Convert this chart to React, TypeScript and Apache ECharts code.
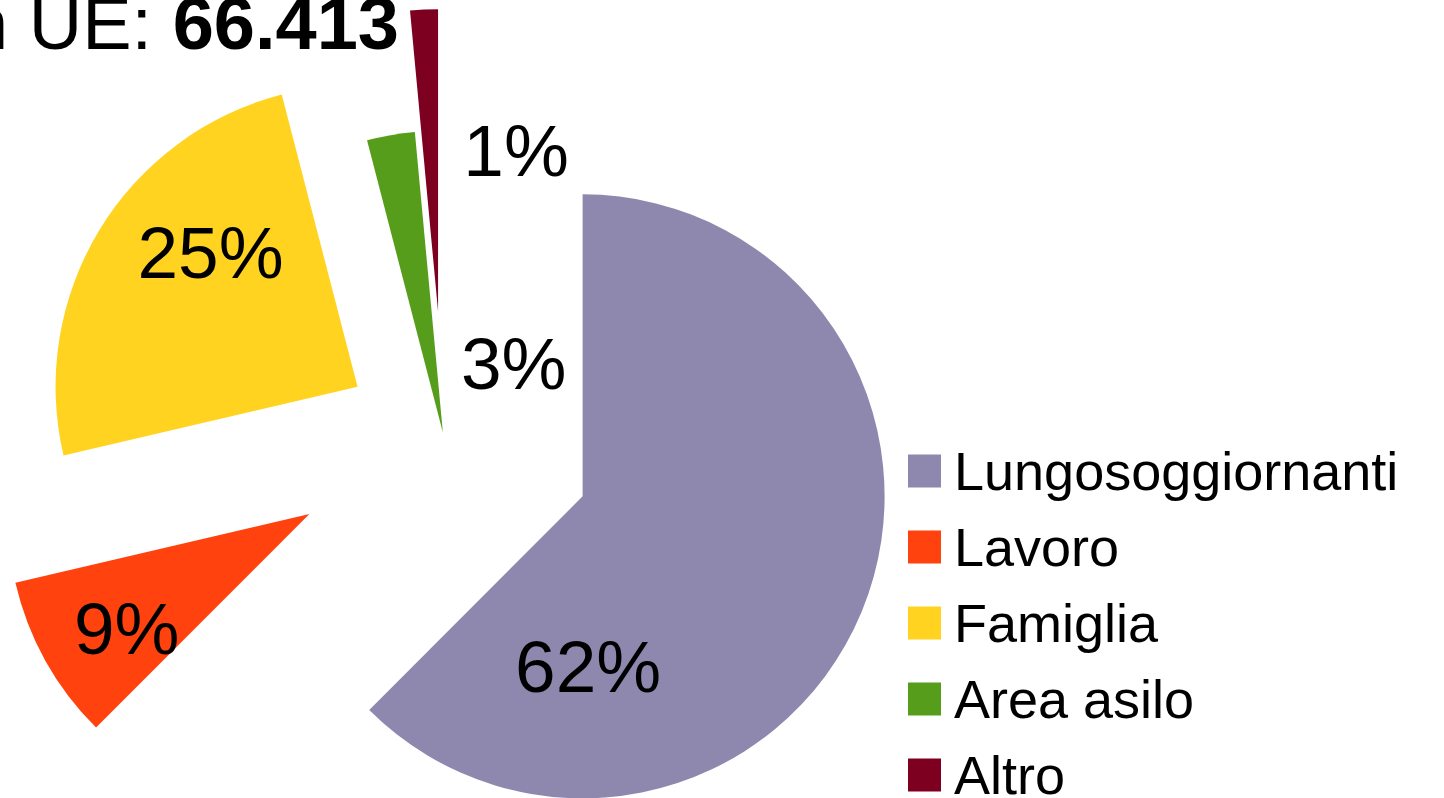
import React, { useEffect, useRef } from "react";
import * as echarts from "echarts";

const categories = ["Lungosoggiornanti", "Lavoro", "Famiglia", "Area asilo", "Altro"];
const values = [41500, 5880, 16350, 1700, 983];
const colors = ["#8E88AF", "#FF420E", "#FFD320", "#579D1C", "#7E0021"];
const titlePrefix = "Cittadini non UE: ";
const titleTotal = "66.413";

// layout (pixels)
const PIE_CENTER = [444, 439];
const PIE_RADIUS = 302;
const EXPLODE = [150, 154, 101, 6.5, 128];
const LABEL_OFFSET = [
  [5.5, 170.5],
  [-182.8, 114.7],
  [-147, -134],
  [70.8, -69],
  [78, -161],
];
const FONT = "'Liberation Sans', Arial, sans-serif";

export default function App() {
  const ref = useRef<HTMLDivElement>(null);
  useEffect(() => {
    if (!ref.current) return;
    const chart = echarts.init(ref.current, undefined, { renderer: "svg" });
    const total = values.reduce((a, b) => a + b, 0);
    let cum = 0;
    const series = values.map((v, i) => {
      const startFrac = cum / total;
      const frac = v / total;
      cum += v;
      const mid = (startFrac + frac / 2) * 2 * Math.PI;
      const center = [
        PIE_CENTER[0] + EXPLODE[i] * Math.sin(mid),
        PIE_CENTER[1] - EXPLODE[i] * Math.cos(mid),
      ];
      const off = LABEL_OFFSET[i];
      return {
        type: "pie",
        radius: PIE_RADIUS,
        center,
        startAngle: 90 - 360 * startFrac,
        clockwise: true,
        avoidLabelOverlap: false,
        minAngle: 0,
        emphasis: { disabled: true },
        itemStyle: { borderWidth: 0 },
        label: {
          show: true,
          position: "inside",
          formatter: (p: any) => Math.round(p.percent) + "%",
          fontSize: 73,
          fontFamily: FONT,
          color: "#000",
        },
        labelLine: { show: false },
        labelLayout: () => ({
          x: center[0] + off[0],
          y: center[1] + off[1],
          align: "center",
          verticalAlign: "middle",
        }),
        data: [
          { name: categories[i], value: v, itemStyle: { color: colors[i] } },
          {
            name: "rest-" + i,
            value: total - v,
            itemStyle: { color: "rgba(0,0,0,0)" },
            label: { show: false },
            labelLine: { show: false },
            tooltip: { show: false },
          },
        ],
      };
    });
    chart.setOption({
      animation: false,
      backgroundColor: "#fff",
      title: {
        text: titlePrefix + "{b|" + titleTotal + "}",
        right: 1045,
        top: -14,
        padding: 0,
        textStyle: {
          fontSize: 74,
          fontWeight: "normal",
          fontFamily: FONT,
          color: "#000",
          rich: {
            b: { fontSize: 74, fontWeight: "bold", fontFamily: FONT, color: "#000" },
          },
        },
      },
      legend: {
        orient: "vertical",
        left: 908,
        top: 443,
        height: 420,
        padding: 0,
        itemWidth: 33,
        itemHeight: 33,
        itemGap: 20,
        icon: "rect",
        selectedMode: false,
        data: categories,
        textStyle: {
          fontSize: 54,
          fontFamily: FONT,
          color: "#000",
          lineHeight: 56,
          padding: [0, 0, 0, 8],
        },
      },
      series,
    });
    return () => chart.dispose();
  }, []);
  return (
    <div
      ref={ref}
      style={{ position: "fixed", left: 0, top: 0, width: 1444, height: 798 }}
    />
  );
}
